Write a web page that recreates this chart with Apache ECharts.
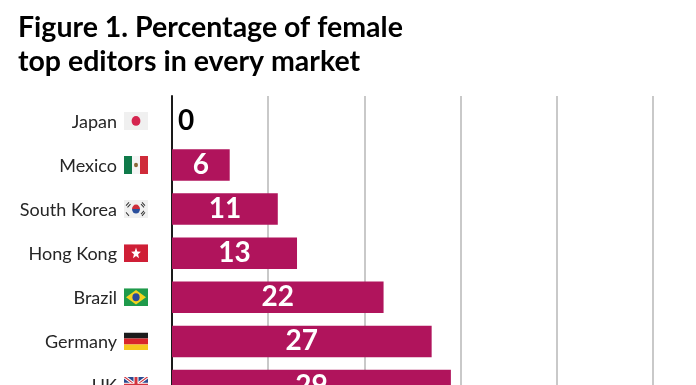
<!DOCTYPE html>
<html lang="en" style="height: 100%">
<head>
  <meta charset="utf-8" />
  <title>Female top editors</title>
</head>
<body style="height: 100%; margin: 0; background: #fff">
  <div id="container" style="height: 100%"></div>

  <script src="https://fastly.jsdelivr.net/npm/echarts@6/dist/echarts.min.js"></script>

  <script>
    const categories = ['Japan', 'Mexico', 'South Korea', 'Hong Kong', 'Brazil', 'Germany', 'UK'];
    const flagKeys = ['jp', 'mx', 'kr', 'hk', 'br', 'de', 'uk'];
    const values = [0, 6, 11, 13, 22, 27, 29];

    // flag emoji are not available, so small svg flags go in the label as images
    const flagShapes = {
      jp: '<rect width="24" height="16" fill="#f0f0f0"/><circle cx="12" cy="8" r="4.400" fill="#d5254f"/>',
      mx: '<rect width="8" height="16" fill="#0f7a4a"/><rect x="8" width="8" height="16" fill="#f5f5f5"/><rect x="16" width="8" height="16" fill="#cf2b3a"/><circle cx="12" cy="8" r="2" fill="#8a6a3a"/>',
      kr: '<rect width="24" height="16" fill="#f0f0f0"/><path d="M8 8a4 4 0 0 1 8 0z" fill="#cd2e3a"/><path d="M8 8a4 4 0 0 0 8 0z" fill="#2a4f9c"/><path d="M2 5l3-3M3.500 6.500l3-3M18 2l3 3M17 3.500l3 3M2 11l3 3M18 14l3-3M17 12.500l3-3" stroke="#333" stroke-width="1"/>',
      hk: '<rect width="24" height="16" fill="#cf1f36"/><path d="M12 3l1.300 3.400 3.600.2-2.800 2.300.9 3.500-3-2-3 2 .9-3.500-2.800-2.300 3.600-.2z" fill="#fff"/>',
      br: '<rect width="24" height="16" fill="#1f9a4b"/><path d="M12 1.500L22 8 12 14.500 2 8z" fill="#f4d21f"/><circle cx="12" cy="8" r="3.600" fill="#2b4a9b"/>',
      de: '<rect width="24" height="5.400" fill="#1c1c1c"/><rect y="5.400" width="24" height="5.300" fill="#d8262c"/><rect y="10.700" width="24" height="5.300" fill="#f6c81e"/>',
      uk: '<rect width="24" height="16" fill="#2a4a90"/><path d="M0 0L24 16M24 0L0 16" stroke="#fff" stroke-width="3"/><path d="M0 0L24 16M24 0L0 16" stroke="#d2343f" stroke-width="1"/><path d="M12 0V16M0 8H24" stroke="#fff" stroke-width="5"/><path d="M12 0V16M0 8H24" stroke="#d2343f" stroke-width="3"/>'
    };

    function flagUrl(key) {
      const svg = '<svg xmlns="http://www.w3.org/2000/svg" width="24" height="16" viewBox="0 0 24 16">' + flagShapes[key] + '</svg>';
      return 'data:image/svg+xml;charset=utf-8,' + encodeURIComponent(svg);
    }

    const richStyles = {
      name: { fontFamily: 'Lato', fontSize: 18, color: '#262626', padding: [2, 7, 0, 0] }
    };
    for (const key of flagKeys) {
      richStyles[key] = { width: 24, height: 16, padding: [0, 0, 2, 0], backgroundColor: { image: flagUrl(key) } };
    }

    const barData = [];
    for (let i = 0; i < values.length; i++) {
      // the zero bar has no room inside, its label sits to the right in black
      barData.push({
        value: values[i],
        label: values[i] === 0 ? { position: 'right', distance: 6, color: '#000' } : {}
      });
    }

    var myChart = echarts.init(document.getElementById('container'));

    var option = {
      animation: false,
      backgroundColor: '#fff',
      title: {
        text: 'Figure 1. Percentage of female\ntop editors in every market',
        left: 13,
        top: 6,
        textStyle: { fontFamily: 'Lato', fontSize: 28.5, fontWeight: 'bold', lineHeight: 34, color: '#000' }
      },
      grid: [
        // rows run past the bottom edge of the picture, so no clamping to the canvas
        { left: 172, top: 98.85, width: 577, height: 308.7, outerBoundsMode: 'none' },
        // stub above the first row: axis and gridlines start a little higher
        { left: 172, top: 96, width: 577, height: 3, outerBoundsMode: 'none' }
      ],
      xAxis: [
        {
          type: 'value', min: 0, max: 60, interval: 10,
          axisLine: { show: false }, axisTick: { show: false }, axisLabel: { show: false },
          splitLine: { lineStyle: { color: '#c9c9c9', width: 2 } }
        },
        {
          type: 'value', gridIndex: 1, min: 0, max: 60, interval: 10,
          axisLine: { show: false }, axisTick: { show: false }, axisLabel: { show: false },
          splitLine: { lineStyle: { color: '#c9c9c9', width: 2 } }
        }
      ],
      yAxis: [
        {
          type: 'category',
          inverse: true,
          data: categories,
          axisLine: { lineStyle: { color: '#1a1a1a', width: 2 } },
          axisTick: { show: false },
          axisLabel: {
            margin: 24,
            formatter: function (value, index) {
              return '{name|' + value + '}{' + flagKeys[index] + '|}';
            },
            rich: richStyles
          }
        },
        {
          type: 'category', gridIndex: 1, data: [''],
          axisLine: { lineStyle: { color: '#1a1a1a', width: 2 } },
          axisTick: { show: false }, axisLabel: { show: false }
        }
      ],
      series: [
        {
          type: 'bar',
          data: barData,
          barWidth: 31.5,
          itemStyle: { color: '#b0145c' },
          label: {
            show: true,
            position: 'inside',
            fontFamily: 'Lato',
            fontSize: 28,
            fontWeight: 'bold',
            color: '#fff'
          }
        }
      ]
    };

    myChart.setOption(option);

    window.onresize = function () {
      myChart.resize();
    };
  </script>
</body>
</html>
